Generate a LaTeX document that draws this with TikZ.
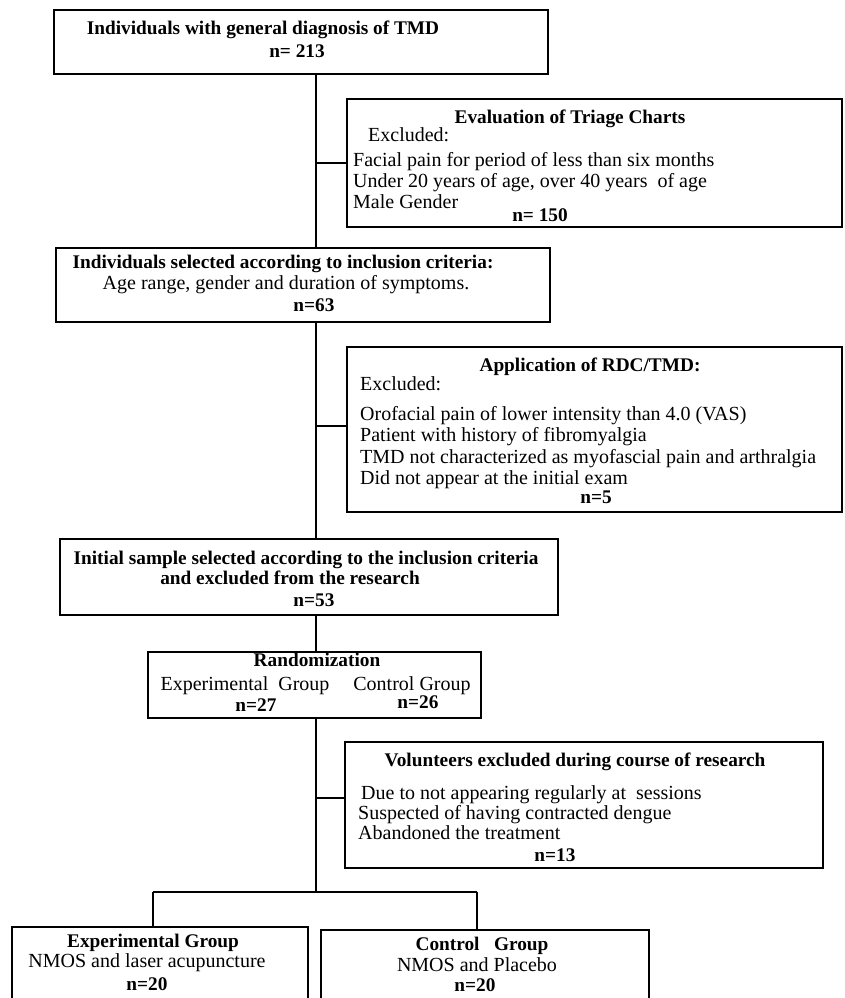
\documentclass[tikz,border=0pt]{standalone}
\usepackage{fontspec}
\setmainfont{Liberation Serif}
\begin{document}
\begin{tikzpicture}[x=1pt,y=-1pt,
  box/.style={draw, line width=1.3pt, inner sep=0pt},
  tb/.style={font=\bfseries\fontsize{19.3}{21}\selectfont, inner sep=0pt, text height=13pt, text depth=4pt, anchor=center},
  tr/.style={font=\fontsize{20}{21}\selectfont, inner sep=0pt, text height=13pt, text depth=4pt, anchor=center},
  trl/.style={tr, anchor=west},
  conn/.style={line width=1.3pt}]
\useasboundingbox (0,0) rectangle (844,998);
\clip (0,0) rectangle (844,998);
% boxes
\node[box, minimum width=494pt, minimum height=64pt] (b1) at (301,42) {};
\node[box, minimum width=495pt, minimum height=128pt] (T) at (594.5,163) {};
\node[box, minimum width=494pt, minimum height=74pt] (b3) at (303,285) {};
\node[box, minimum width=495pt, minimum height=165pt] (R) at (594.5,429.5) {};
\node[box, minimum width=498pt, minimum height=76pt] (b4) at (309,577) {};
\node[box, minimum width=333pt, minimum height=66pt] (rand) at (314.5,685) {};
\node[box, minimum width=478pt, minimum height=126pt] (V) at (584,805) {};
\node[box, minimum width=296pt, minimum height=90pt] (E) at (160,972) {};
\node[box, minimum width=328pt, minimum height=86pt] (C) at (485,973) {};
% texts
\node[tb] (t1a) at (263,30) {Individuals with general diagnosis of TMD};
\node[tb] (t1b) at (297,53) {n= 213};
\node[tb] (tTa) at (570,119) {Evaluation of Triage Charts};
\node[trl] (tTb) at (368,137) {Excluded:};
\node[trl] (tTc) at (353,162) {Facial pain for period of less than six months};
\node[trl] (tTd) at (353,183) {Under 20 years of age, over 40 years\ \ of age};
\node[trl] (tTe) at (353,204) {Male Gender};
\node[tb] (tTf) at (540,217) {n= 150};
\node[tb] (t3a) at (283,264) {Individuals selected according to inclusion criteria:};
\node[tr] (t3b) at (286,285) {Age range, gender and duration of symptoms.};
\node[tb] (t3c) at (314,307) {n=63};
\node[tb] (tRa) at (590,367) {Application of RDC/TMD:};
\node[trl] (tRb) at (360,386) {Excluded:};
\node[trl] (tRc) at (360,416) {Orofacial pain of lower intensity than 4.0 (VAS)};
\node[trl] (tRd) at (360,437) {Patient with history of fibromyalgia};
\node[trl] (tRe) at (360,459) {TMD not characterized as myofascial pain and arthralgia};
\node[trl] (tRf) at (360,480) {Did not appear at the initial exam};
\node[tb] (tRg) at (596,499) {n=5};
\node[tb] (t4a) at (306,560) {Initial sample selected according to the inclusion criteria};
\node[tb] (t4b) at (290,580) {and excluded from the research};
\node[tb] (t4c) at (314,602) {n=53};
\node[tb] (tra) at (317,662) {Randomization};
\node[tr] (trb) at (245,686) {Experimental\ \ Group};
\node[tr] (trc) at (412,686) {Control Group};
\node[tb] (trd) at (256,707) {n=27};
\node[tb] (tre) at (418,704) {n=26};
\node[tb] (tVa) at (575,762) {Volunteers excluded during course of research};
\node[trl] (tVb) at (361,795) {Due to not appearing regularly at\ \ sessions};
\node[trl] (tVc) at (358,815) {Suspected of having contracted dengue};
\node[trl] (tVd) at (358,835) {Abandoned the treatment};
\node[tb] (tVe) at (555,857) {n=13};
\node[tb] (tEa) at (153,943) {Experimental Group};
\node[tr] (tEb) at (147,963) {NMOS and laser acupuncture};
\node[tb] (tEc) at (147,986) {n=20};
\node[tb] (tCa) at (482,946) {Control\ \ \ Group};
\node[tr] (tCb) at (477,967) {NMOS and Placebo};
\node[tb] (tCc) at (475,987) {n=20};
% connectors
\coordinate (tx) at (316,0);
\coordinate (j1) at (316,163);
\coordinate (j2) at (316,426);
\coordinate (j3) at (316,798);
\coordinate (br) at (316,892);
\coordinate (bl) at (153,892);
\coordinate (bri) at (477,892);
\draw[conn] (b1.south -| tx) -- (b3.north -| tx);
\draw[conn] (j1) -- (j1 -| T.west);
\draw[conn] (b3.south -| tx) -- (b4.north -| tx);
\draw[conn] (j2) -- (j2 -| R.west);
\draw[conn] (b4.south -| tx) -- (rand.north -| tx);
\draw[conn] (rand.south -| tx) -- (br);
\draw[conn] (j3) -- (j3 -| V.west);
\draw[conn] (bl) -- (bri);
\draw[conn] (bl) -- (bl |- E.north);
\draw[conn] (bri) -- (bri |- C.north);
\end{tikzpicture}
\end{document}
